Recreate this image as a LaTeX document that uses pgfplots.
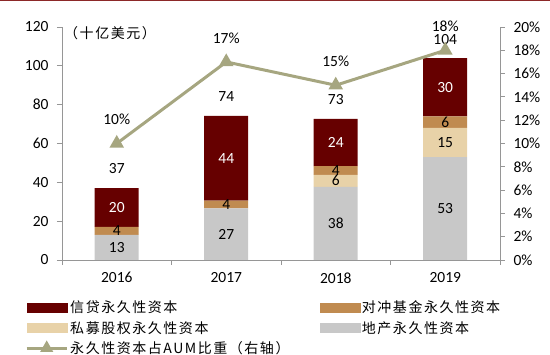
\documentclass[border=0pt]{standalone}
\usepackage{pgfplots}
\pgfplotsset{compat=1.18}
\usepackage{fontspec}
\setmainfont{Carlito}
\newfontfamily\cjk[LetterSpace=11]{Noto Sans CJK SC}
\definecolor{ccredit}{RGB}{102,0,0}
\definecolor{chedge}{RGB}{192,139,80}
\definecolor{cpe}{RGB}{232,210,168}
\definecolor{cgray}{RGB}{200,200,200}
\definecolor{linecol}{RGB}{166,166,128}
\definecolor{axisgray}{RGB}{150,150,150}
\definecolor{topred}{RGB}{140,40,40}
\newcommand\lab{\fontsize{15.5}{18}\selectfont}
\newcommand\cj{\cjk\fontsize{14}{16}\selectfont}
\pgfplotsset{
  base/.style={scale only axis, width=438pt, height=233pt, at={(62pt,95pt)}, anchor=south west,
    xmin=-0.5, xmax=3.5, clip=false,
    tick label style={font=\lab}, /pgf/number format/assume math mode=true},
  seg/.style={draw=none, nodes near coords, point meta=explicit symbolic,
    every node near coord/.append style={anchor=center, font=\lab, text=#1}},
}
\begin{document}
\begin{tikzpicture}[x=1pt,y=1pt]
\useasboundingbox (0,0) rectangle (550,355);
\draw[topred, line width=1.5pt] (0,354.3) -- (550,354.3);
% bars
\begin{axis}[base, ymin=0, ymax=120, ytick={0,20,...,120},
  ybar stacked, bar width=44pt,
  axis x line*=bottom, axis y line*=left,
  axis line style={-, draw=axisgray, line width=0.8pt},
  tick align=outside, major tick length=5pt,
  tick style={draw=axisgray, line width=0.8pt},
  xtick={-0.5,0.5,1.5,2.5,3.5}, xticklabels={},
  extra x ticks={0,1,2,3}, extra x tick labels={2016,2017,2018,2019},
  extra x tick style={major tick length=0pt, xticklabel style={yshift=-9pt}},
  yticklabel style={xshift=-5pt}]
\addplot[fill=cgray, draw=none] coordinates {(0,13)(1,26.6)(2,37.6)(3,53)};
\addplot[fill=cpe, draw=none] coordinates {(0,0)(1,0)(2,6.3)(3,15)};
\addplot[fill=chedge, draw=none] coordinates {(0,4)(1,4)(2,4.4)(3,6)};
\addplot[fill=ccredit, draw=none] coordinates {(0,20)(1,43.6)(2,24.4)(3,30)};
\node[anchor=west, font=\cj, inner sep=0pt] at (rel axis cs:0,1) [yshift=-6pt, xshift=2pt] {（十亿美元）};
\end{axis}
% segment labels
\begin{axis}[base, ymin=0, ymax=120, hide axis]
\addplot[seg=black] coordinates {(0,6.5)[13] (1,13.3)[27] (2,18.8)[38] (3,26.5)[53]};
\addplot[seg=black] coordinates {(2,40.8)[6] (3,60.5)[15]};
\addplot[seg=black] coordinates {(0,15)[4] (1,28.6)[4] (2,46.1)[4] (3,71)[6]};
\addplot[seg=white] coordinates {(0,27)[20] (1,52.4)[44] (2,60.5)[24] (3,89)[30]};
\addplot[seg=black] coordinates {(0,47.3)[37] (1,84.3)[74] (2,82.8)[73] (3,113.8)[104]};
\end{axis}
% right axis line
\begin{axis}[base, ymin=0, ymax=20, ytick={0,2,...,20},
  axis y line*=right, axis x line=none,
  axis line style={-, draw=axisgray, line width=0.8pt},
  tick align=outside, major tick length=5pt,
  tick style={draw=axisgray, line width=0.8pt},
  yticklabel={\pgfmathprintnumber{\tick}\%},
  yticklabel style={xshift=5pt},
  legend style={at={(-0.0913,-0.158)}, anchor=north west, draw=none, fill=none,
    legend columns=2, font=\cj, row sep=3pt,
    /tikz/every even column/.append style={column sep=28pt}},
  legend cell align=left]
\addlegendimage{legend image code/.code={\fill[ccredit] (0pt,-4.5pt) rectangle (40pt,4.5pt);}}
\addlegendentry{信贷永久性资本}
\addlegendimage{legend image code/.code={\fill[chedge] (0pt,-4.5pt) rectangle (40pt,4.5pt);}}
\addlegendentry{对冲基金永久性资本}
\addlegendimage{legend image code/.code={\fill[cpe] (0pt,-4.5pt) rectangle (40pt,4.5pt);}}
\addlegendentry{私募股权永久性资本}
\addlegendimage{legend image code/.code={\fill[cgray] (0pt,-4.5pt) rectangle (40pt,4.5pt);}}
\addlegendentry{地产永久性资本}
\addplot[linecol, line width=3pt, mark=triangle*, mark size=5.5pt, mark options={solid, fill=linecol},
  nodes near coords, point meta=explicit symbolic,
  every node near coord/.append style={anchor=center, yshift=24pt, font=\lab, text=black},
  legend image code/.code={\draw[linecol, line width=3pt] (0pt,0pt) -- (40pt,0pt);
    \fill[linecol] (20pt,5pt) -- (16pt,-2pt) -- (24pt,-2pt) -- cycle;}]
  coordinates {(0,10)[10\%] (1,17)[17\%] (2,15)[15\%] (3,18)[18\%]};
\addlegendentry{永久性资本占AUM比重（右轴）}
\end{axis}
\end{tikzpicture}
\end{document}
